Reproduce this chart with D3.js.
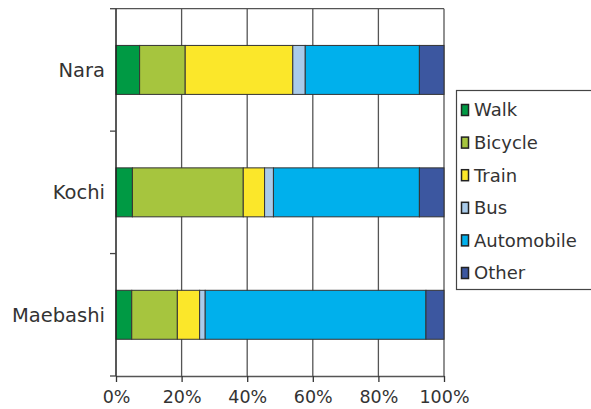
<!DOCTYPE html>
<html><head><meta charset="utf-8">
<script src="https://cdn.jsdelivr.net/npm/d3@7"></script>
<style>body{margin:0;background:#fff}svg{display:block}text{font-family:"DejaVu Sans",sans-serif;fill:#333}</style>
</head><body><svg id="c" width="591" height="409"></svg>
<script>
const categories = ["Nara", "Kochi", "Maebashi"];
const modes = ["Walk", "Bicycle", "Train", "Bus", "Automobile", "Other"];
const walk = [7.2, 5.0, 4.8];
const bicycle = [13.9, 33.8, 13.9];
const train = [32.8, 6.5, 6.8];
const bus = [3.8, 2.7, 1.7];
const automobile = [34.8, 44.5, 67.3];
const other = [7.5, 7.5, 5.5];
const tickValues = [0, 20, 40, 60, 80, 100];
const colors = ["#009a44", "#a6c53e", "#fbe72a", "#a9cbea", "#00b0ec", "#3c57a0"];

const series = [walk, bicycle, train, bus, automobile, other];
const rows = categories.map((c, i) => {
  const r = {cat: c};
  modes.forEach((m, j) => r[m] = series[j][i]);
  return r;
});
const stack = d3.stack().keys(modes)(rows);

const svg = d3.select("#c");
const L = 116, R = 444, T = 8.7, B = 376;
const x = d3.scaleLinear().domain([0, 100]).range([L, R]);
const y = d3.scaleBand().domain(categories).range([T, B]).paddingInner(0.6).paddingOuter(0.3);

// grid lines
svg.append("g").selectAll("line").data(tickValues.slice(1)).join("line")
  .attr("x1", d => x(d)).attr("x2", d => x(d)).attr("y1", T).attr("y2", B)
  .attr("stroke", "#555").attr("stroke-width", 1.3);
// top border
svg.append("line").attr("x1", L).attr("x2", R).attr("y1", T).attr("y2", T)
  .attr("stroke", "#555").attr("stroke-width", 1.3);

// bars
const g = svg.append("g");
stack.forEach((s, j) => {
  g.append("g").selectAll("rect").data(s).join("rect")
    .attr("x", d => x(d[0])).attr("width", d => x(d[1]) - x(d[0]))
    .attr("y", d => y(d.data.cat)).attr("height", y.bandwidth())
    .attr("fill", colors[j]).attr("stroke", "#333").attr("stroke-width", 1);
});

// bottom axis
const xAxis = svg.append("g").attr("transform", `translate(0,${B})`)
  .call(d3.axisBottom(x).tickValues(tickValues).tickFormat(d => d + "%").tickSize(6).tickSizeOuter(0));
xAxis.select(".domain").attr("stroke", "#555").attr("stroke-width", 1.3);
xAxis.selectAll(".tick line").attr("stroke", "#333").attr("stroke-width", 1.3);
xAxis.selectAll("text").attr("font-size", 17.5).attr("dy", "1.0em").attr("fill", "#333")
  .attr("font-family", "DejaVu Sans");

// left axis with boundary ticks
const bounds = [T, T + y.step(), T + 2 * y.step(), B];
svg.append("line").attr("x1", L).attr("x2", L).attr("y1", T).attr("y2", B)
  .attr("stroke", "#222").attr("stroke-width", 1.5);
svg.append("g").selectAll("line").data(bounds).join("line")
  .attr("x1", L - 6).attr("x2", L).attr("y1", d => d).attr("y2", d => d)
  .attr("stroke", "#444").attr("stroke-width", 1.3);
svg.append("g").selectAll("text").data(categories).join("text")
  .attr("x", L - 11).attr("y", d => y(d) + y.bandwidth() / 2).attr("dy", "0.36em")
  .attr("text-anchor", "end").attr("font-size", 19.5).text(d => d);

// legend
const lg = svg.append("g");
lg.append("rect").attr("x", 456.5).attr("y", 90.5).attr("width", 140).attr("height", 199)
  .attr("fill", "#fff").attr("stroke", "#444").attr("stroke-width", 1.2);
const ly = d3.scalePoint().domain(modes).range([110, 273]);
modes.forEach((m, j) => {
  lg.append("rect").attr("x", 461.5).attr("y", ly(m) - 5.5).attr("width", 7).attr("height", 11)
    .attr("fill", colors[j]).attr("stroke", "#222").attr("stroke-width", 1.5);
  lg.append("text").attr("x", 474).attr("y", ly(m)).attr("dy", "0.36em")
    .attr("font-size", 18).text(m);
});
</script></body></html>
